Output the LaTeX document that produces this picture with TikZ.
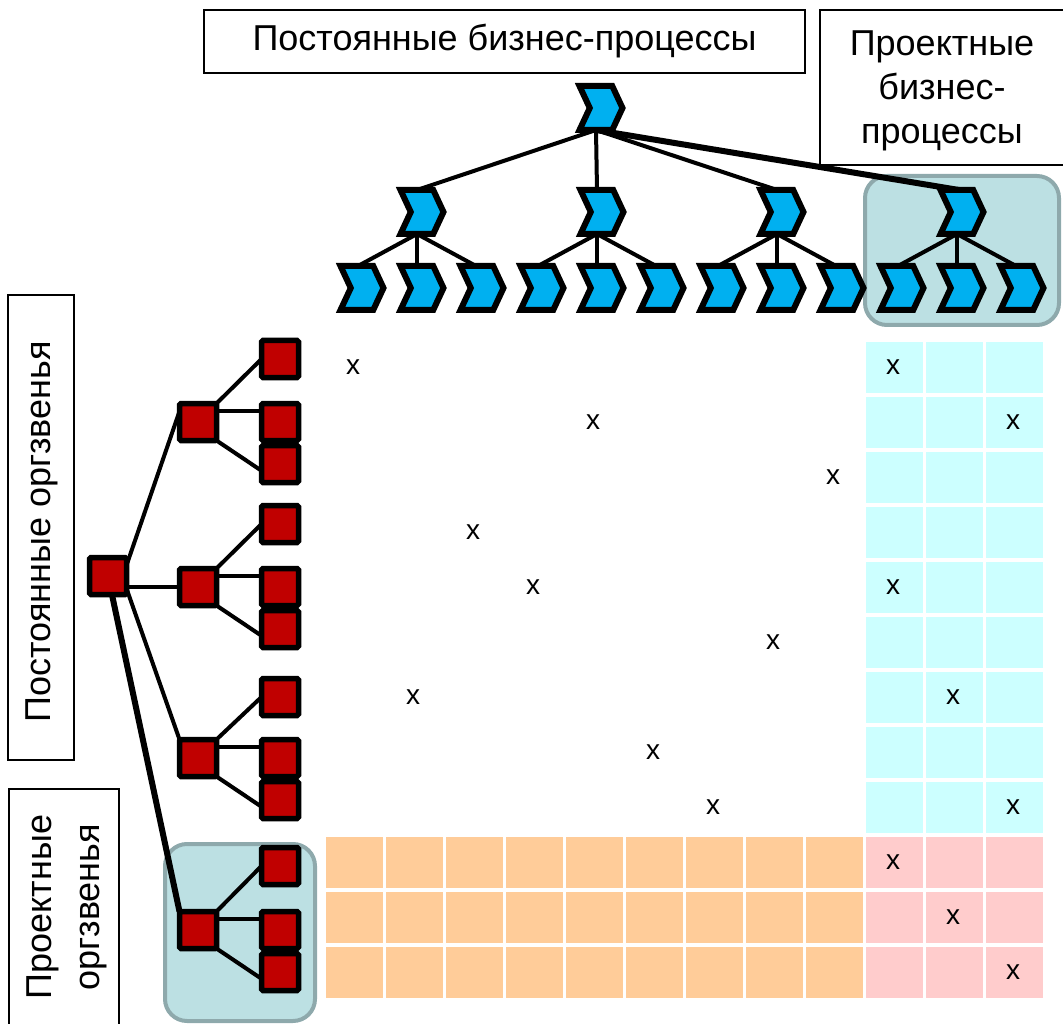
\documentclass[tikz,border=0pt]{standalone}
\usepackage{fontspec}
\setmainfont{Liberation Sans}
\usetikzlibrary{shapes.symbols,calc}
\definecolor{chevc}{HTML}{00B0F0}
\definecolor{sqc}{HTML}{C00000}
\definecolor{tealbg}{HTML}{BCE0E3}
\definecolor{tealbd}{HTML}{8EA9AC}
\definecolor{cyancell}{HTML}{CCFFFF}
\definecolor{pinkcell}{HTML}{FFCCCC}
\definecolor{orangecell}{HTML}{FFCC99}
\pgfdeclarelayer{bg}
\pgfsetlayers{bg,main}
\begin{document}
\begin{tikzpicture}[x=1pt,y=-1pt,
 chevn/.style={signal, signal to=east, signal from=west, signal pointer angle=130, draw=black, line width=6pt, fill=chevc, minimum width=43pt, minimum height=44pt, inner sep=0pt, outer sep=0pt, line join=miter},
 sqn/.style={rectangle, draw=black, line width=5.5pt, fill=sqc, minimum size=37pt, inner sep=0pt, outer sep=0pt, rounded corners=1.5pt},
 conn/.style={line width=4pt},
 thickconn/.style={line width=6pt},
 lbl/.style={draw=black, line width=1.3pt, inner sep=0pt, align=center, font=\fontsize{36}{44}\selectfont},
 lbltext/.style={inner sep=0pt, align=center, font=\fontsize{36}{44}\selectfont},
 xm/.style={font=\fontsize{28}{28}\selectfont, inner sep=0pt},
 grpbox/.style={draw=tealbd, fill=tealbg, line width=4pt, rounded corners=22pt}
]
\useasboundingbox (0,0) rectangle (1063,1024);

% labels
\node[lbl, minimum width=601pt, minimum height=63pt] (tb1) at (504.5,41.5) {Постоянные бизнес-процессы};
\node[lbl, minimum width=244pt, minimum height=155pt] (tb2) at (942,87.5) {};
\node[lbltext] (tb2t) at (942,91) {Проектные\\бизнес-\\процессы};
\node[lbl, rotate=90, minimum width=465pt, minimum height=66pt] (lb1) at (41,527.5) {};
\node[lbltext, rotate=90] (lb1t) at (42,532) {Постоянные оргзвенья};
\node[lbl, rotate=90, minimum width=240pt, minimum height=110pt] (lb2) at (64,909) {};
\node[lbltext, rotate=90, font=\fontsize{36}{48}\selectfont] (lb2t) at (67,907) {Проектные\\оргзвенья};

% process chevrons
\node[chevn] (p0) at (601,108) {};
\foreach \i/\x in {1/422,2/602,3/782,4/962} \node[chevn] (q\i) at (\x,212) {};
\foreach \i in {1,...,12} \node[chevn] (c\i) at ({362+60*(\i-1)},288) {};

% org squares
\node[sqn] (r) at (108,576) {};
\foreach \i/\t/\m in {1/359/422,2/524/587,3/697/758,4/866/930} {
  \node[sqn] (L\i) at (198,\m) {};
  \node[sqn] (T\i) at (280,\t) {};
  \node[sqn] (M\i) at (280,\m) {};
  \node[sqn] (B\i) at (280,{\m+42}) {};
}

% x marks
\foreach \c/\r [count=\k] in {1/1,10/1,5/2,12/2,9/3,3/4,4/5,10/5,8/6,2/7,11/7,6/8,7/9,12/9,10/10,11/11,12/12}
  \node[xm] (x\k) at ({353+60*(\c-1)},{367.5+55*(\r-1)}) {x};

\begin{pgfonlayer}{bg}
\draw[grpbox] (865,176) rectangle (1059,325);
\draw[grpbox] (165,844) rectangle (315,1021);
\foreach \r in {0,...,8} \foreach \c in {9,10,11}
  \fill[cyancell] ({326+60*\c},{342+55*\r}) rectangle ++(57,51);
\foreach \r in {9,10,11} {
  \foreach \c in {0,...,8} \fill[orangecell] ({326+60*\c},{342+55*\r}) rectangle ++(57,51);
  \foreach \c in {9,10,11} \fill[pinkcell] ({326+60*\c},{342+55*\r}) rectangle ++(57,51);
}
% process connectors
\foreach \q in {q1,q2,q3} \draw[conn] ([xshift=-5pt]p0.south) -- ([xshift=-5pt]\q.north);
\draw[thickconn] ([xshift=-5pt]p0.south) -- ([xshift=-3pt]q4.north);
\foreach \q/\a/\b/\c in {q1/c1/c2/c3,q2/c4/c5/c6,q3/c7/c8/c9,q4/c10/c11/c12} {
  \draw[conn] ([xshift=-5pt]\q.south) -- ([xshift=-4pt]\a.north);
  \draw[conn] ([xshift=-5pt]\q.south) -- ([xshift=-5pt]\b.north);
  \draw[conn] ([xshift=-5pt]\q.south) -- ([xshift=-6pt]\c.north);
}
% org connectors
\draw[conn] (r.30) -- (L1.150);
\draw[conn] (L2.west -| r.east) -- (L2.west);
\draw[conn] (r.-34) -- (L3.north west);
\draw[thickconn] (r.center) -- (L4.north west);
\foreach \i in {1,2,3,4} {
  \draw[conn] (L\i.north east) -- (T\i.west);
  \draw[conn] (L\i.30) -- (L\i.30 -| M\i.west);
  \draw[conn] (L\i.south east) -- (B\i.200);
}
\end{pgfonlayer}
\end{tikzpicture}
\end{document}
